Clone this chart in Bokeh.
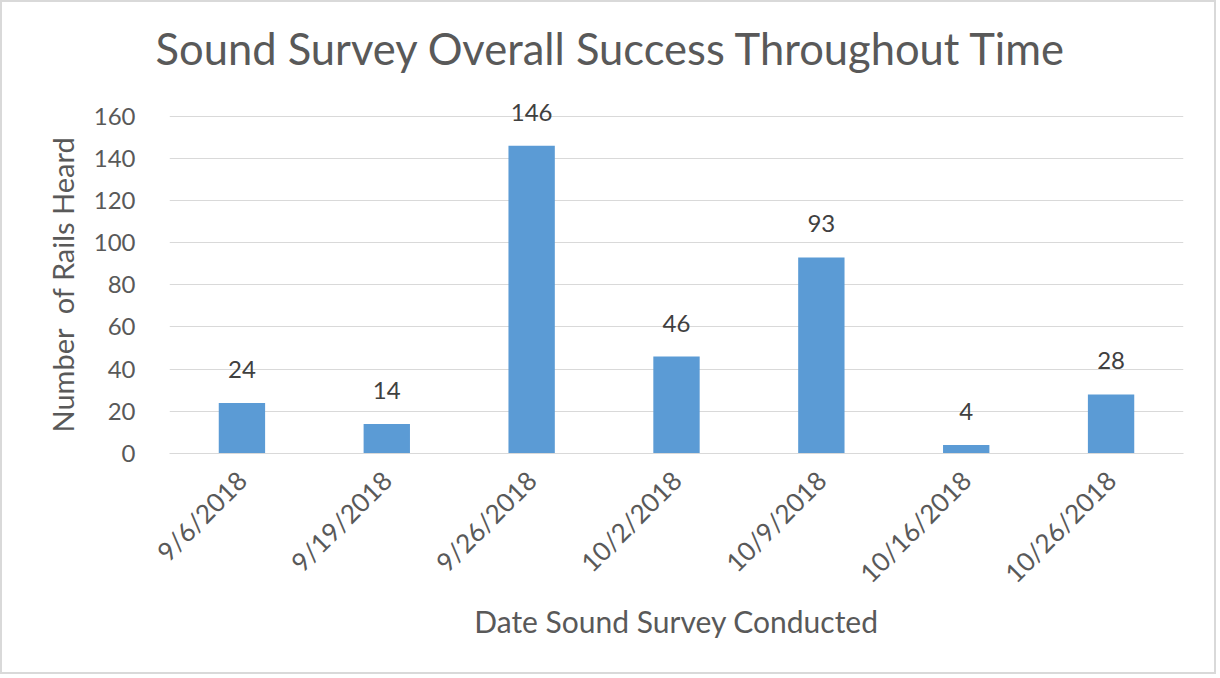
import math
from bokeh.plotting import figure
from bokeh.models import ColumnDataSource, Range1d, FixedTicker, LabelSet, Title
from bokeh.core.properties import value
from bokeh.embed import file_html
from bokeh.resources import INLINE

# Survey dates and number of rails heard on each
dates = ["9/6/2018", "9/19/2018", "9/26/2018", "10/2/2018",
         "10/9/2018", "10/16/2018", "10/26/2018"]
rails_heard = [24, 14, 146, 46, 93, 4, 28]
y_ticks = [0, 20, 40, 60, 80, 100, 120, 140, 160]

FONT = "Lato"
TEXT = "#595959"

src = ColumnDataSource(dict(date=dates, count=rails_heard,
                            label=[str(v) for v in rails_heard]))

# the y range runs a little past the top tick so value labels have room
p = figure(x_range=dates, y_range=Range1d(0, 175),
           width=1216, height=674, output_backend="svg",
           toolbar_location=None, tools="",
           min_border_left=167, min_border_right=35,
           min_border_top=82, min_border_bottom=223)

p.title.text = "Sound Survey Overall Success Throughout Time"
p.title.text_font = FONT
p.title.text_font_size = "43.5px"
p.title.text_font_style = "normal"
p.title.text_color = TEXT
p.title.align = "left"
p.title.offset = -14
p.title.standoff = 22

p.vbar(x="date", top="count", width=0.32, source=src,
       fill_color="#5B9BD5", line_color=None)

labels = LabelSet(x="date", y="count", text="label", source=src,
                  text_align="center", text_baseline="bottom", y_offset=25,
                  text_font=value(FONT), text_font_size="24px",
                  text_color="#404040")
p.add_layout(labels)

p.outline_line_color = None
p.background_fill_color = "white"
p.border_fill_color = "white"

p.xgrid.grid_line_color = None
p.ygrid.grid_line_color = "#d9d9d9"
p.ygrid.grid_line_width = 1

p.yaxis.ticker = FixedTicker(ticks=y_ticks)
p.yaxis.axis_line_color = None
p.yaxis.major_tick_line_color = None
p.yaxis.minor_tick_line_color = None
p.yaxis.major_label_text_font = FONT
p.yaxis.major_label_text_font_size = "24px"
p.yaxis.major_label_text_color = TEXT
p.yaxis.major_label_standoff = 28

# y axis title, kept centred on the 0-160 tick span
y_title = Title(text="Number\u00a0 of Rails Heard", align="left", offset=21,
                standoff=22, text_font=FONT, text_font_size="29px",
                text_font_style="normal", text_color=TEXT)
p.add_layout(y_title, "left")

p.xaxis.axis_line_color = "#d9d9d9"
p.xaxis.major_tick_line_color = None
p.xaxis.minor_tick_line_color = None
p.xaxis.major_label_orientation = math.pi / 4
p.xaxis.major_label_text_font = FONT
p.xaxis.major_label_text_font_size = "26px"
p.xaxis.major_label_text_color = TEXT
p.xaxis.major_label_standoff = 16
p.xaxis.axis_label = "Date Sound Survey Conducted"
p.xaxis.axis_label_text_font = FONT
p.xaxis.axis_label_text_font_size = "30px"
p.xaxis.axis_label_text_font_style = "normal"
p.xaxis.axis_label_text_color = TEXT
p.xaxis.axis_label_standoff = 0

p.styles = {"border": "2px solid #d9d9d9"}

open("out.html", "w").write(file_html(p, INLINE))
